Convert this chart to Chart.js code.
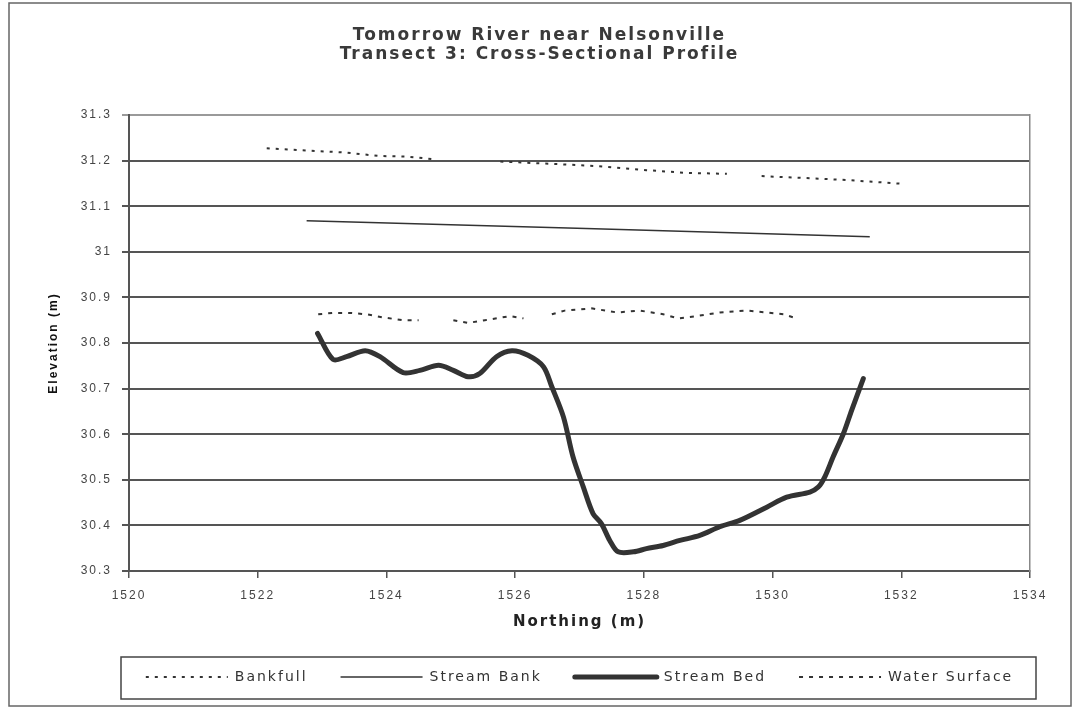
<!DOCTYPE html>
<html>
<head>
<meta charset="utf-8">
<title>Tomorrow River near Nelsonville</title>
<script src="https://cdn.jsdelivr.net/npm/chart.js@4.4.1/dist/chart.umd.min.js"></script>
<style>
  html, body { margin: 0; padding: 0; background: #fff; }
  #wrap { position: relative; width: 1073px; height: 708px; }
</style>
</head>
<body>
<div id="wrap"><canvas id="profileChart"></canvas></div>
<script>
// ─── data (northing m / elevation m) ───
const xTicks = [1520, 1522, 1524, 1526, 1528, 1530, 1532, 1534];
const yTicks = [30.3, 30.4, 30.5, 30.6, 30.7, 30.8, 30.9, 31, 31.1, 31.2, 31.3];

// null = break in the dotted line
const bankfullX = [1522.14, 1522.76, 1523.33, 1523.90, 1524.31, 1524.73, 1525.25, 1525.77, 1526.70, 1527.27, 1528.04, 1528.67, 1529.29, 1529.56, 1529.83, 1530.63, 1531.20, 1532.03];
const bankfullY = [31.227, 31.222, 31.218, 31.210, 31.209, 31.203, null, 31.198, 31.192, 31.188, 31.179, 31.173, 31.171, null, 31.166, 31.161, 31.157, 31.149];

const bankX = [1522.76, 1527.10, 1531.51];
const bankY = [31.068, 31.051, 31.033];

const bedX = [1522.93, 1523.17, 1523.38, 1523.67, 1523.90, 1524.26, 1524.52, 1524.81, 1525.04, 1525.27,
              1525.45, 1525.71, 1525.95, 1526.20, 1526.44, 1526.57, 1526.75, 1526.90, 1527.06, 1527.21,
              1527.34, 1527.47, 1527.60, 1527.84, 1528.04, 1528.30, 1528.56, 1528.87, 1529.18, 1529.49,
              1529.91, 1530.22, 1530.58, 1530.71, 1530.81, 1530.94, 1531.10, 1531.23, 1531.41];
const bedY = [30.821, 30.764, 30.770, 30.783, 30.770, 30.735, 30.740, 30.751, 30.740, 30.726,
              30.733, 30.770, 30.783, 30.773, 30.748, 30.704, 30.638, 30.550, 30.484, 30.426,
              30.404, 30.367, 30.342, 30.342, 30.349, 30.356, 30.367, 30.378, 30.397, 30.411,
              30.440, 30.462, 30.473, 30.484, 30.506, 30.550, 30.601, 30.653, 30.722];

const waterX = [1522.94, 1523.17, 1523.43, 1523.69, 1523.95, 1524.26, 1524.50, 1524.77, 1525.04, 1525.27,
                1525.53, 1525.92, 1526.13, 1526.35, 1526.57, 1526.77, 1527.19, 1527.58, 1527.94, 1528.30,
                1528.53, 1528.82, 1529.18, 1529.60, 1529.91, 1530.17, 1530.37];
const waterY = [30.863, 30.866, 30.866, 30.863, 30.856, 30.850, 30.850, null, 30.850, 30.844,
                30.850, 30.859, 30.854, null, 30.863, 30.871, 30.876, 30.867, 30.871, 30.863,
                30.854, 30.859, 30.867, 30.871, 30.867, 30.863, 30.854];

const pts = (xs, ys) => xs.map((x, i) => ({ x: x, y: ys[i] }));

Chart.defaults.font.family = '"Liberation Sans", Arial, sans-serif';
Chart.defaults.color = '#333';

// ─── small plugins: spaced lettering, outer frame, legend box ───
const spacing = {
    id: 'spacing',
    beforeUpdate: chart => { chart.ctx.letterSpacing = '2px'; },
    beforeRender: chart => { chart.ctx.letterSpacing = '2px'; }
};

const frames = {
    id: 'frames',
    // centre the bottom legend under the plot instead of under the whole canvas
    afterLayout: chart => {
        const lg = chart.legend;
        const shift = (chart.chartArea.left + chart.chartArea.right) / 2 - (lg.left + lg.right) / 2;
        lg.left += shift;
        lg.right += shift;
    },
    beforeDraw: chart => {
        const ctx = chart.ctx;
        ctx.save();
        ctx.strokeStyle = '#666';
        ctx.lineWidth = 1.5;
        ctx.strokeRect(9, 3, 1062, 703);
        ctx.restore();
    },
    afterDraw: chart => {
        const { ctx, chartArea, legend } = chart;
        const lab = legend.options.labels;
        const cy = legend.top + lab.padding + lab.font.size / 2;
        ctx.save();
        ctx.strokeStyle = '#444';
        ctx.lineWidth = 1.5;
        ctx.strokeRect(chartArea.left - 8, cy - 20, chartArea.right - chartArea.left + 14, 42);
        ctx.restore();
    }
};

const lineColor = '#333';

new Chart(document.getElementById('profileChart').getContext('2d'), {
    type: 'line',
    data: {
        datasets: [
            {
                label: 'Bankfull',
                data: pts(bankfullX, bankfullY),
                borderColor: lineColor,
                borderWidth: 2,
                borderDash: [3, 6],
                pointRadius: 0,
                spanGaps: false
            },
            {
                label: 'Stream Bank',
                data: pts(bankX, bankY),
                borderColor: lineColor,
                borderWidth: 1.5,
                pointRadius: 0
            },
            {
                label: 'Stream Bed',
                data: pts(bedX, bedY),
                borderColor: '#333',
                borderWidth: 5,
                borderCapStyle: 'round',
                borderJoinStyle: 'round',
                tension: 0.3,
                pointRadius: 0
            },
            {
                label: 'Water Surface',
                data: pts(waterX, waterY),
                borderColor: lineColor,
                borderWidth: 2,
                borderDash: [4, 6],
                pointRadius: 0,
                spanGaps: false
            }
        ]
    },
    options: {
        responsive: true,
        maintainAspectRatio: false,
        animation: false,
        layout: { padding: { left: 10, right: 4, top: 0, bottom: 14 } },
        plugins: {
            tooltip: { enabled: false },
            title: {
                display: true,
                text: ['Tomorrow River near Nelsonville', 'Transect 3: Cross-Sectional Profile'],
                color: '#3a3a3a',
                font: { family: '"DejaVu Sans", sans-serif', size: 17, weight: 'bold', lineHeight: 1.1 },
                padding: { top: 26.65, bottom: 50.95 }
            },
            legend: {
                position: 'bottom',
                labels: {
                    usePointStyle: true,
                    pointStyle: 'line',
                    pointStyleWidth: 82,
                    padding: 33,
                    color: '#333',
                    font: { family: '"DejaVu Sans", sans-serif', size: 14 },
                    // point style legend ignores the dataset dash, so copy it over
                    generateLabels: chart => {
                        const items = Chart.defaults.plugins.legend.labels.generateLabels(chart);
                        items.forEach(it => {
                            const ds = chart.data.datasets[it.datasetIndex];
                            it.lineDash = ds.borderDash || [];
                            it.lineWidth = ds.borderWidth;
                            it.lineCap = ds.borderCapStyle || 'butt';
                        });
                        return items;
                    }
                }
            }
        },
        scales: {
            x: {
                type: 'linear',
                min: 1520,
                max: 1534,
                afterBuildTicks: s => { s.ticks = xTicks.map(v => ({ value: v })); },
                afterFit: s => { s.height = 66; },
                ticks: { padding: 10, color: '#444', font: { size: 12 }, callback: v => String(v) },
                grid: { drawOnChartArea: false, tickLength: 7, color: '#555', lineWidth: 1.5 },
                border: { color: '#555', width: 2 },
                title: {
                    display: true,
                    text: 'Northing (m)',
                    color: '#222',
                    font: { family: '"DejaVu Sans", sans-serif', size: 15, weight: 'bold' },
                    padding: { top: 0, bottom: 6 }
                }
            },
            y: {
                type: 'linear',
                min: 30.3,
                max: 31.3,
                afterBuildTicks: s => { s.ticks = yTicks.map(v => ({ value: v })); },
                afterFit: s => { s.width = 119; },
                ticks: { padding: 10, color: '#444', font: { size: 12 }, callback: v => String(v) },
                grid: {
                    tickLength: 7,
                    lineWidth: 2,
                    color: c => (c.tick && c.tick.value === 31.3 ? '#9a9a9a' : '#555')
                },
                border: { color: '#555', width: 2 },
                title: {
                    display: true,
                    text: 'Elevation (m)',
                    color: '#111',
                    font: { size: 12, weight: 'bold' },
                    padding: { top: 36, bottom: 0 }
                }
            },
            // empty right axis: only keeps the plot's right edge and draws its border
            yR: {
                type: 'linear',
                position: 'right',
                afterFit: s => { s.width = 39; },
                ticks: { display: false },
                grid: { display: false },
                border: { display: true, color: '#888', width: 1.5 }
            }
        }
    },
    plugins: [spacing, frames]
});
</script>
</body>
</html>
